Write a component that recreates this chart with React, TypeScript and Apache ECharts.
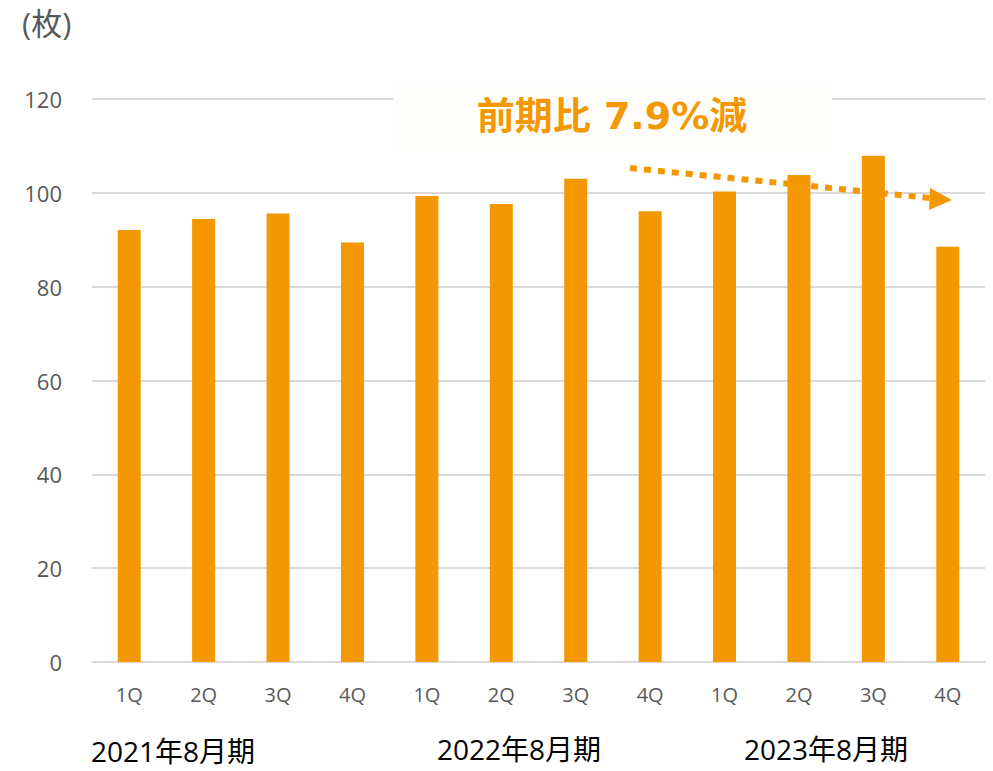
import React, { useEffect, useRef } from "react";
import * as echarts from "echarts";

const categories = ["1Q", "2Q", "3Q", "4Q", "1Q", "2Q", "3Q", "4Q", "1Q", "2Q", "3Q", "4Q"];
const values = [92.1, 94.4, 95.6, 89.4, 99.3, 97.6, 103.0, 96.1, 100.3, 103.8, 107.9, 88.5];
const yearLabels = ["2021年8月期", "2022年8月期", "2023年8月期"];
const unitLabel = "(枚)";
const annotation = "前期比 7.9%減";

const ORANGE = "#f39800";
const LAT = '"Open Sans", "Noto Sans CJK JP", sans-serif';
const BOLD = '"DejaVu Sans", "Noto Sans CJK JP", sans-serif';

export default function App() {
  const ref = useRef<HTMLDivElement>(null);
  useEffect(() => {
    if (!ref.current) return;
    const chart = echarts.init(ref.current, null, { renderer: "svg" });
    chart.setOption({
      animation: false,
      backgroundColor: "#ffffff",
      grid: { left: 92, right: 8, top: 99, bottom: 109 },
      xAxis: {
        type: "category",
        data: categories,
        axisLine: { lineStyle: { color: "#d9d9d9", width: 2 } },
        axisTick: { show: false },
        axisLabel: { color: "#595959", fontSize: 20, fontFamily: LAT, margin: 22 },
      },
      yAxis: {
        type: "value",
        min: 0,
        max: 120,
        interval: 20,
        axisLine: { show: false },
        axisTick: { show: false },
        axisLabel: { color: "#595959", fontSize: 22, fontFamily: LAT, margin: 30 },
        splitLine: { lineStyle: { color: "#d9d9d9", width: 2 } },
      },
      series: [
        {
          type: "bar",
          data: values,
          barWidth: 23,
          itemStyle: { color: ORANGE },
        },
      ],
      graphic: [
        { type: "rect", shape: { x: 393, y: 84, width: 439, height: 68 }, style: { fill: "#fffefd" }, z: 10 },
        {
          type: "text",
          x: 612,
          y: 116,
          style: { text: annotation, fill: ORANGE, fontSize: 38, fontWeight: "bold", fontFamily: BOLD, align: "center", verticalAlign: "middle" },
          z: 11,
        },
        {
          type: "line",
          shape: { x1: 630, y1: 168, x2: 930, y2: 198 },
          style: { stroke: ORANGE, lineWidth: 6, lineDash: [7, 7] },
          z: 12,
        },
        {
          type: "polygon",
          shape: { points: [[930, 188], [952, 200], [929, 210]] },
          style: { fill: ORANGE },
          z: 12,
        },
        {
          type: "text",
          x: 22,
          y: 23,
          style: { text: unitLabel, fill: "#595959", fontSize: 31, fontFamily: LAT, verticalAlign: "middle" },
        },
        {
          type: "text",
          x: 91,
          y: 751,
          style: { text: yearLabels[0], fill: "#000000", fontSize: 28, fontFamily: LAT, verticalAlign: "middle" },
        },
        {
          type: "text",
          x: 437,
          y: 749,
          style: { text: yearLabels[1], fill: "#000000", fontSize: 28, fontFamily: LAT, verticalAlign: "middle" },
        },
        {
          type: "text",
          x: 744,
          y: 749,
          style: { text: yearLabels[2], fill: "#000000", fontSize: 28, fontFamily: LAT, verticalAlign: "middle" },
        },
      ],
    });
    return () => chart.dispose();
  }, []);
  return <div ref={ref} style={{ width: 993, height: 771, position: "absolute", left: 0, top: 0 }} />;
}
